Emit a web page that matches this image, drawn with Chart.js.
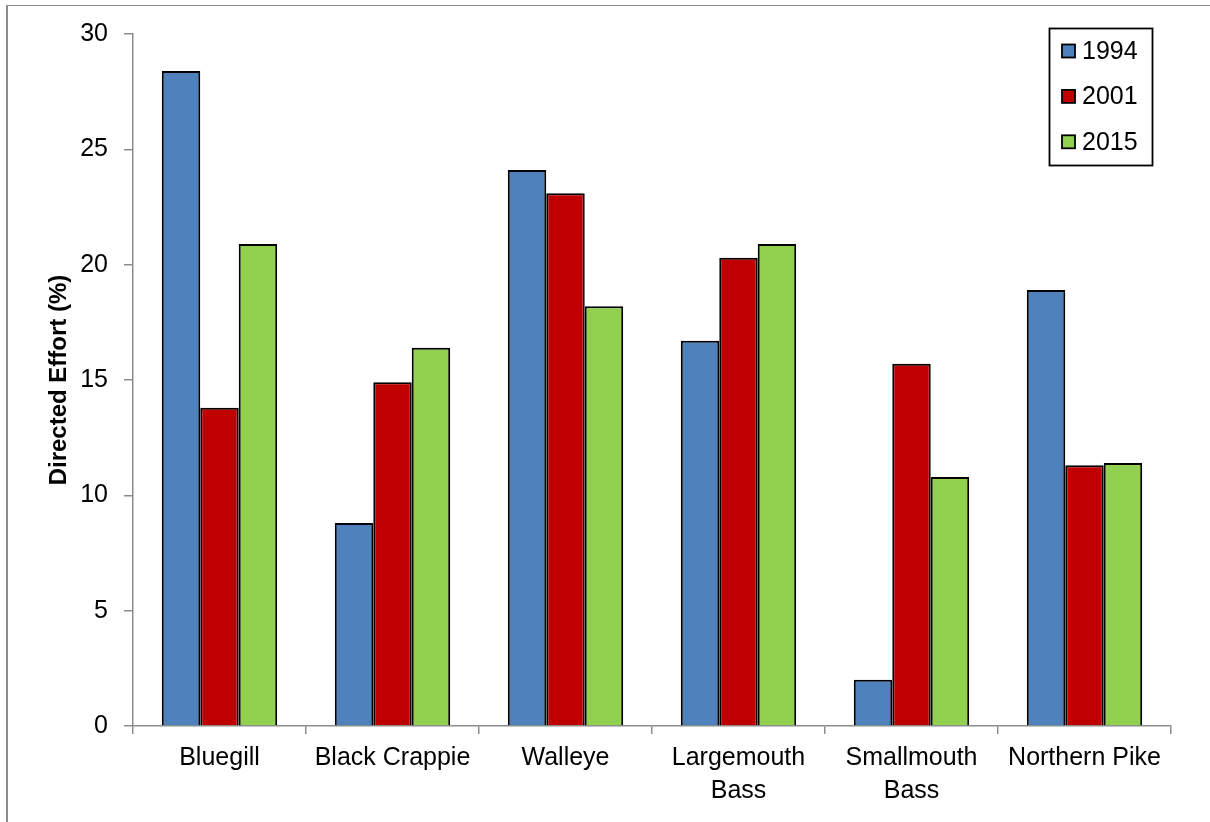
<!DOCTYPE html>
<html>
<head>
<meta charset="utf-8">
<script src="https://cdn.jsdelivr.net/npm/chart.js@4"></script>
<style>
  html, body { margin: 0; padding: 0; background: #fff; overflow: hidden; }
  #frame { position: absolute; left: 6px; top: 5px; width: 1230px; height: 840px;
           border-left: 2px solid #8c8c8c; border-top: 1px solid #8c8c8c; }
  #wrap { position: absolute; left: 0; top: 0; width: 1210px; height: 822px; }
</style>
</head>
<body>
<div id="frame"></div>
<div id="wrap"><canvas id="c" width="1210" height="822"></canvas></div>
<script>
// Directed angling effort by species, survey years 1994 / 2001 / 2015
const species = ['Bluegill', 'Black Crappie', 'Walleye', ['Largemouth', 'Bass'], ['Smallmouth', 'Bass'], 'Northern Pike'];
const years = ['1994', '2001', '2015'];
const effort1994 = [28.4, 8.8, 24.1, 16.7, 2.0, 18.9];
const effort2001 = [13.8, 14.9, 23.1, 20.3, 15.7, 11.3];
const effort2015 = [20.9, 16.4, 18.2, 20.9, 10.8, 11.4];
const yTicks = [0, 5, 10, 15, 20, 25, 30];

const colours = ['#4F81BD', '#C00000', '#92D050'];
const FONT = "'Liberation Sans', Arial, sans-serif";
const AXIS = '#8c8c8c';

// Boxed legend in the upper-right corner of the plot
const boxedLegend = {
  id: 'boxedLegend',
  afterDraw(chart) {
    const ctx = chart.ctx;
    const area = chart.chartArea;
    const bx = area.right - 122, by = area.top - 6, bw = 103, bh = 137;
    ctx.save();
    ctx.fillStyle = '#fff';
    ctx.fillRect(bx, by, bw, bh);
    ctx.strokeStyle = '#000';
    ctx.lineWidth = 1.8;
    ctx.strokeRect(bx + 0.5, by + 0.5, bw, bh);
    ctx.font = '25px ' + FONT;
    ctx.textBaseline = 'middle';
    ctx.textAlign = 'left';
    chart.data.datasets.forEach((ds, i) => {
      const cy = by + 23 + i * 45.4;
      ctx.fillStyle = ds.backgroundColor;
      ctx.fillRect(bx + 13, cy - 6.5, 13, 13);
      ctx.lineWidth = 1.8;
      ctx.strokeStyle = '#000';
      ctx.strokeRect(bx + 13, cy - 6.5, 13, 13);
      ctx.fillStyle = '#000';
      ctx.fillText(ds.label, bx + 33, cy + 1);
    });
    ctx.restore();
  }
};

const seriesValues = [effort1994, effort2001, effort2015];

new Chart(document.getElementById('c'), {
  type: 'bar',
  data: {
    labels: species,
    datasets: years.map((y, i) => ({
      label: y,
      data: seriesValues[i],
      backgroundColor: colours[i],
      borderColor: '#000',
      borderWidth: 2,
      barPercentage: 1.0,
      categoryPercentage: 0.667
    }))
  },
  options: {
    responsive: false,
    animation: false,
    layout: { padding: { left: 0, top: 34, right: 39, bottom: 0 } },
    plugins: { legend: { display: false }, tooltip: { enabled: false } },
    scales: {
      x: {
        grid: { offset: true, drawOnChartArea: false, drawTicks: true, tickLength: 8, color: AXIS, lineWidth: 1.5 },
        border: { display: true, color: AXIS, width: 1.5 },
        ticks: {
          autoSkip: false, maxRotation: 0, minRotation: 0, padding: 8, color: '#000',
          font: { family: FONT, size: 25, lineHeight: 1.3 }
        },
        afterFit(scale) { scale.height = 96; }
      },
      y: {
        min: 0, max: 30,
        afterBuildTicks(scale) { scale.ticks = yTicks.map(v => ({ value: v })); },
        grid: { drawOnChartArea: false, drawTicks: true, tickLength: 9, color: AXIS, lineWidth: 1.5 },
        border: { display: true, color: AXIS, width: 1.5 },
        ticks: { padding: 16, color: '#000', font: { family: FONT, size: 25 } },
        title: {
          display: true, text: 'Directed Effort (%)', color: '#000',
          font: { family: FONT, size: 24, weight: 'bold' },
          padding: { top: 45, bottom: 0 }
        },
        afterFit(scale) { scale.width = 133; }
      }
    }
  },
  plugins: [boxedLegend]
});
</script>
</body>
</html>
